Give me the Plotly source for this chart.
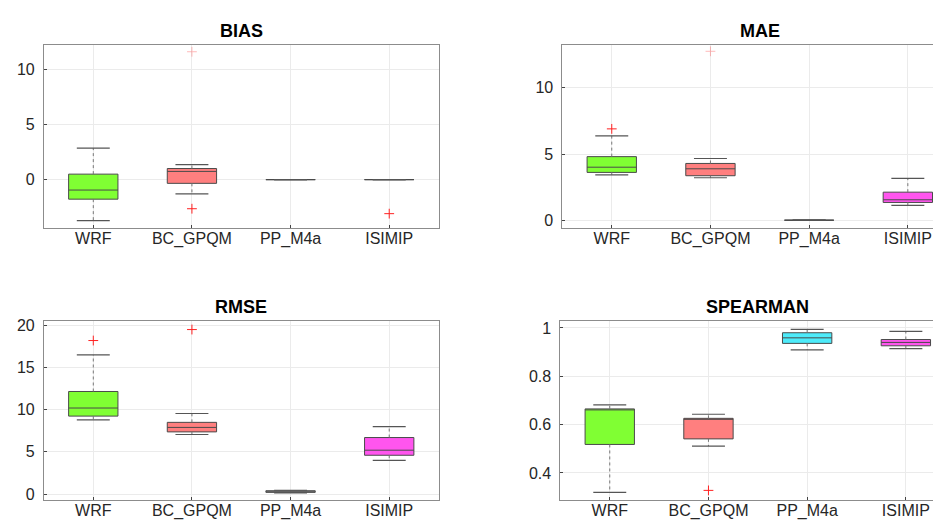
import plotly.graph_objects as go

categories = ["WRF", "BC_GPQM", "PP_M4a", "ISIMIP"]
colors = ["#80FF33", "#FF7F7F", "#4DEBFA", "#FF55EE"]

# per metric: q1, median, q3, lower whisker end, upper whisker end
bias_q1 = [-1.83, -0.39, -0.05, -0.05]
bias_med = [-1.0, 0.7, -0.05, -0.05]
bias_q3 = [0.45, 0.96, -0.05, -0.05]
bias_lo = [-3.78, -1.35, -0.05, -0.05]
bias_hi = [2.82, 1.32, -0.05, -0.05]
bias_out_x = ["BC_GPQM", "ISIMIP"]
bias_out_y = [-2.7, -3.15]
bias_faint_x = ["BC_GPQM"]
bias_faint_y = [11.6]

mae_q1 = [3.63, 3.38, 0.05, 1.38]
mae_med = [4.02, 3.9, 0.05, 1.58]
mae_q3 = [4.81, 4.3, 0.05, 2.15]
mae_lo = [3.45, 3.23, 0.05, 1.16]
mae_hi = [6.37, 4.67, 0.05, 3.18]
mae_out_x = ["WRF"]
mae_out_y = [6.89]
mae_faint_x = ["BC_GPQM"]
mae_faint_y = [12.7]

rmse_q1 = [9.24, 7.37, 0.2, 4.6]
rmse_med = [10.2, 7.9, 0.25, 5.2]
rmse_q3 = [12.16, 8.5, 0.4, 6.7]
rmse_lo = [8.8, 7.06, 0.15, 4.0]
rmse_hi = [16.5, 9.55, 0.45, 8.0]
rmse_out_x = ["WRF", "BC_GPQM"]
rmse_out_y = [18.2, 19.5]
rmse_faint_x = []
rmse_faint_y = []

sp_q1 = [0.518, 0.541, 0.936, 0.926]
sp_med = [0.663, 0.626, 0.959, 0.94]
sp_q3 = [0.665, 0.626, 0.98, 0.952]
sp_lo = [0.32, 0.511, 0.909, 0.914]
sp_hi = [0.682, 0.643, 0.994, 0.986]
sp_out_x = ["BC_GPQM"]
sp_out_y = [0.328]
sp_faint_x = []
sp_faint_y = []

titles = ["BIAS", "MAE", "RMSE", "SPEARMAN"]
y_ranges = [[-4.5, 12.25], [-0.57, 13.2], [-0.74, 20.47], [0.287, 1.027]]
y_ticks = [[0, 5, 10], [0, 5, 10], [0, 5, 10, 15, 20], [0.4, 0.6, 0.8, 1]]
y_ticktext = [["0", "5", "10"], ["0", "5", "10"], ["0", "5", "10", "15", "20"],
              ["0.4", "0.6", "0.8", "1"]]

metrics = [
    (bias_q1, bias_med, bias_q3, bias_lo, bias_hi, bias_out_x, bias_out_y, bias_faint_x, bias_faint_y),
    (mae_q1, mae_med, mae_q3, mae_lo, mae_hi, mae_out_x, mae_out_y, mae_faint_x, mae_faint_y),
    (rmse_q1, rmse_med, rmse_q3, rmse_lo, rmse_hi, rmse_out_x, rmse_out_y, rmse_faint_x, rmse_faint_y),
    (sp_q1, sp_med, sp_q3, sp_lo, sp_hi, sp_out_x, sp_out_y, sp_faint_x, sp_faint_y),
]
colored = [
    [True, True, False, False],
    [True, True, False, True],
    [True, True, False, True],
    [True, True, True, True],
]

W, H = 941, 520
boxes_px = [(36, 431, 33, 219), (555, 941, 33, 219),
            (36, 431, 313, 494), (553, 941, 313, 494)]
x_ranges = [[0.5, 4.5], [0.5, 4.407], [0.5, 4.5], [0.5, 4.427]]
BOX_W = 0.5
CAP_HALF = 0.167

fig = go.Figure()
cat_pos = {c: i + 1 for i, c in enumerate(categories)}

for k in range(4):
    q1, med, q3, lo, hi, ox, oy, fx, fy = metrics[k]
    ax = "" if k == 0 else str(k + 1)
    xa, ya = "x" + ax, "y" + ax
    wx, wy, cx, cy = [], [], [], []
    for i, c in enumerate(categories):
        p = cat_pos[c]
        wx += [p, p, None, p, p, None]
        wy += [q3[i], hi[i], None, q1[i], lo[i], None]
        cx += [p - CAP_HALF, p + CAP_HALF, None, p - CAP_HALF, p + CAP_HALF, None]
        cy += [hi[i], hi[i], None, lo[i], lo[i], None]
    fig.add_trace(go.Scatter(x=wx, y=wy, mode="lines",
                             line=dict(color="#777777", width=1, dash="dot"),
                             showlegend=False, hoverinfo="skip", xaxis=xa, yaxis=ya))
    fig.add_trace(go.Scatter(x=cx, y=cy, mode="lines",
                             line=dict(color="#555555", width=1.2),
                             showlegend=False, hoverinfo="skip", xaxis=xa, yaxis=ya))
    for i, c in enumerate(categories):
        fc = colors[i] if colored[k][i] else "rgba(0,0,0,0)"
        fig.add_trace(go.Box(
            x=[cat_pos[c]], q1=[q1[i]], median=[med[i]], q3=[q3[i]],
            lowerfence=[q1[i]], upperfence=[q3[i]],
            width=BOX_W, whiskerwidth=0,
            fillcolor=fc, line=dict(color="#4a4a4a", width=1),
            boxpoints=False, showlegend=False, hoverinfo="skip",
            xaxis=xa, yaxis=ya,
        ))
    fig.add_trace(go.Scatter(
        x=[cat_pos[c] for c in ox], y=oy, mode="markers",
        marker=dict(symbol="cross-thin", size=7, line=dict(color="#ff2020", width=1)),
        showlegend=False, hoverinfo="skip", xaxis=xa, yaxis=ya,
    ))
    if fx:
        fig.add_trace(go.Scatter(
            x=[cat_pos[c] for c in fx], y=fy, mode="markers", opacity=0.3,
            marker=dict(symbol="cross-thin", size=7, line=dict(color="#ff2020", width=1)),
            showlegend=False, hoverinfo="skip", xaxis=xa, yaxis=ya,
        ))

layout = dict(
    width=W, height=H, margin=dict(l=0, r=0, t=0, b=0),
    paper_bgcolor="white", plot_bgcolor="white",
    font=dict(family="Liberation Sans, Arial, sans-serif", size=16, color="#262626"),
    annotations=[],
)
for k in range(4):
    l, r, t, b = boxes_px[k]
    ax = "" if k == 0 else str(k + 1)
    layout["xaxis" + ax] = dict(
        domain=[l / W, r / W], anchor="y" + ax, range=x_ranges[k],
        tickmode="array", tickvals=[1, 2, 3, 4], ticktext=categories,
        showgrid=True, gridcolor="#ebebeb", gridwidth=1, zeroline=False,
        showline=True, linecolor="#8c8c8c", linewidth=1, mirror=True,
        ticks="inside", ticklen=3, tickcolor="#444444",
        ticklabelstandoff=-5,
        tickfont=dict(size=16, color="#262626"),
    )
    layout["yaxis" + ax] = dict(
        domain=[(H - b) / H, (H - t) / H], anchor="x" + ax, range=y_ranges[k],
        tickmode="array", tickvals=y_ticks[k], ticktext=y_ticktext[k],
        showgrid=True, gridcolor="#ebebeb", gridwidth=1, zeroline=False,
        showline=True, linecolor="#8c8c8c", linewidth=1, mirror=True,
        ticks="inside", ticklen=3, tickcolor="#444444",
        ticklabelstandoff=5,
        tickfont=dict(size=16, color="#262626"),
    )
    cx_px = l + 0.5 * (r - l) * 4 / (x_ranges[k][1] - x_ranges[k][0])
    layout["annotations"].append(dict(
        text="<b>" + titles[k] + "</b>", xref="paper", yref="paper",
        x=cx_px / W, y=(H - t + 2) / H, xanchor="center", yanchor="bottom",
        showarrow=False, font=dict(size=18, color="black"),
    ))

fig.update_layout(**layout)
fig.write_html("out.html")
